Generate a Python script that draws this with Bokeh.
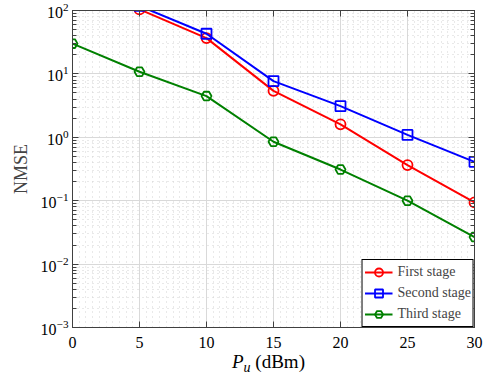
from bokeh.plotting import figure
from bokeh.models import (LogAxis, LinearAxis, LogTicker, SingleIntervalTicker,
                          Legend, LegendItem, Range1d, CustomJSTickFormatter, Div)
from bokeh.layouts import column
from bokeh.embed import file_html
from bokeh.resources import INLINE

# ---- data ----
first_x = [5, 10, 15, 20, 25, 30]
first_nmse = [104, 36.7, 5.4, 1.6, 0.365, 0.094]
second_x = [5, 10, 15, 20, 25, 30]
second_nmse = [118, 43, 7.7, 3.1, 1.09, 0.41]
third_x = [0, 5, 10, 15, 20, 25, 30]
third_nmse = [30, 10.8, 4.47, 0.85, 0.31, 0.1, 0.0267]
series_names = ["First stage", "Second stage", "Third stage"]

FONT = "Liberation Serif"
AX = "#404040"

p = figure(width=484, height=352, x_range=Range1d(0, 30), y_range=Range1d(1e-3, 1e2),
           y_axis_type="log", output_backend="svg", toolbar_location=None,
           min_border_left=72, min_border_right=10, min_border_top=10, min_border_bottom=25)
p.outline_line_color = AX
p.outline_line_width = 1

xt = SingleIntervalTicker(interval=5, num_minor_ticks=10)
yt = LogTicker(desired_num_ticks=6, num_minor_ticks=10)

def style_axis(ax, minor=True):
    ax.axis_line_color = AX
    ax.major_tick_line_color = AX
    ax.major_tick_in = 6
    ax.major_tick_out = 0
    if minor:
        ax.minor_tick_line_color = AX
        ax.minor_tick_in = 4
        ax.minor_tick_out = 0
    else:
        ax.minor_tick_line_color = None
    ax.major_label_text_font = FONT
    ax.major_label_text_font_size = "16px"
    ax.major_label_text_color = "black"

xa = p.xaxis[0]
xa.ticker = xt
style_axis(xa, minor=False)
xa.major_label_standoff = 5

ya = p.yaxis[0]
ya.ticker = yt
style_axis(ya)
ya.major_label_standoff = 4
ya.axis_label = "NMSE"
ya.axis_label_text_font = FONT
ya.axis_label_text_font_style = "normal"
ya.axis_label_text_font_size = "18px"
ya.axis_label_standoff = 7

blank = CustomJSTickFormatter(code="return ''")
top = LinearAxis(ticker=xt, formatter=blank)
style_axis(top, minor=False)
top.major_label_standoff = 0
p.add_layout(top, "above")
right = LogAxis(ticker=yt, formatter=blank)
style_axis(right)
right.major_label_standoff = 0
p.add_layout(right, "right")

for g in (p.xgrid[0], p.ygrid[0]):
    g.grid_line_color = "#d9d9d9"
    g.grid_line_width = 1
    g.minor_grid_line_color = "#d2d2d2"
    g.minor_grid_line_dash = "1 4"
    g.minor_grid_line_width = 1

colors = ["#ff0000", "#0000ff", "#008000"]
markers = ["circle", "square", "hex"]
xs = [first_x, second_x, third_x]
ys = [first_nmse, second_nmse, third_nmse]
items = []
for name, c, m, x, y in zip(series_names, colors, markers, xs, ys):
    l = p.line(x, y, line_color=c, line_width=2)
    s = p.scatter(x, y, marker=m, size=10, line_color=c, line_width=1.8, fill_color=None)
    items.append(LegendItem(label=name, renderers=[l, s]))

legend = Legend(items=items, location="bottom_right", border_line_color="black",
                border_line_width=1, border_line_alpha=1, label_text_font=FONT,
                label_text_font_size="14px", glyph_width=28, glyph_height=20,
                label_height=20, spacing=1, padding=2, margin=0, label_standoff=5,
                background_fill_color="white", background_fill_alpha=1)
p.add_layout(legend)

# x axis label: P_u (dBm)
xlabel = Div(
    text='<div style="font-family:\'Liberation Serif\';font-size:19px;line-height:19px;'
         'padding-left:232px;padding-top:0px;margin:0;white-space:nowrap;color:black">'
         '<i>P</i><sub style="font-size:14px;line-height:0;vertical-align:-4px"><i>u</i></sub>'
         '&nbsp;(dBm)</div>',
    width=484, height=28, margin=(0, 0, 0, 0))

layout = column(p, xlabel, spacing=0)
open("out.html", "w").write(file_html(layout, INLINE))
